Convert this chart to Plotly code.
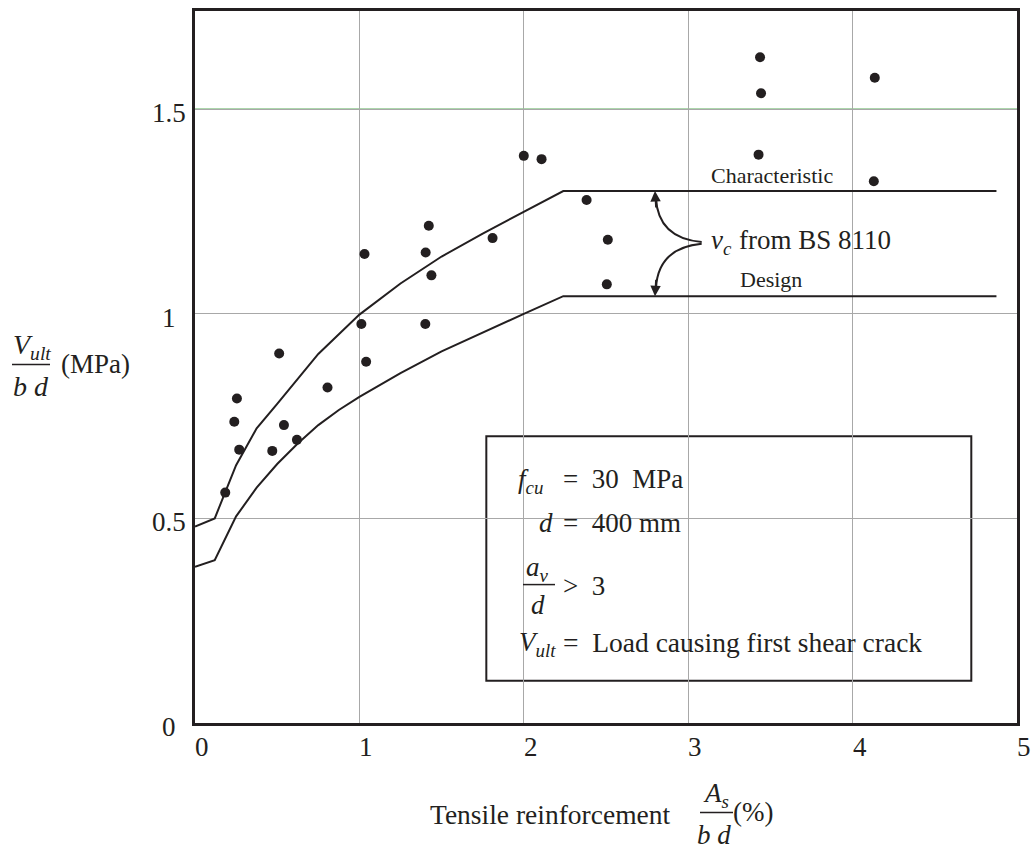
import plotly.graph_objects as go

# ---------------- data ----------------
curve_x = [0, 0.12, 0.25, 0.375, 0.5, 0.625, 0.75, 0.875, 1.0, 1.25, 1.5, 1.75, 2.0, 2.24, 4.875]
char_y = [0.48, 0.50, 0.63, 0.72, 0.78, 0.842, 0.902, 0.95, 0.998, 1.074, 1.14, 1.196, 1.248, 1.30, 1.30]
design_y = [0.382, 0.398, 0.505, 0.575, 0.633, 0.683, 0.728, 0.765, 0.797, 0.855, 0.908, 0.955, 1.0, 1.043, 1.043]

test_x = [0.184, 0.239, 0.255, 0.269, 0.47, 0.512, 0.541, 0.62, 0.806, 1.012, 1.031, 1.041,
          1.401, 1.403, 1.422, 1.438, 1.81, 2.0, 2.108, 2.382, 2.511, 2.505, 3.437, 3.443,
          3.428, 4.135, 4.129]
test_y = [0.563, 0.736, 0.793, 0.668, 0.665, 0.903, 0.728, 0.692, 0.820, 0.975, 1.146, 0.883,
          0.975, 1.150, 1.215, 1.094, 1.185, 1.386, 1.378, 1.278, 1.181, 1.072, 1.627, 1.539,
          1.389, 1.577, 1.324]

x_ticks = [0, 1, 2, 3, 4, 5]
x_tick_labels = ["0", "1", "2", "3", "4", "5"]
y_ticks = [0, 0.5, 1, 1.5]
y_tick_labels = ["0", "0.5", "1", "1.5"]

# ---------------- layout geometry ----------------
W, H = 1031, 850
L, R, T, B = 195, 1017, 8, 723
PW, PH = R - L, B - T
XMAX, YMAX = 5, 1.74
FONT = "Liberation Serif"
INK = "#231f20"


def P(px, py):
    return (px - L) / PW, (B - py) / PH


fig = go.Figure()
fig.add_trace(go.Scatter(x=curve_x, y=char_y, mode="lines", line=dict(color=INK, width=2),
                         name="Characteristic", showlegend=False))
fig.add_trace(go.Scatter(x=curve_x, y=design_y, mode="lines", line=dict(color=INK, width=2),
                         name="Design", showlegend=False))
fig.add_trace(go.Scatter(x=test_x, y=test_y, mode="markers",
                         marker=dict(color=INK, size=10), name="Tests", showlegend=False))

shapes = []
# green line at 1.5
shapes.append(dict(type="line", xref="x", yref="y", x0=0, x1=XMAX, y0=1.5, y1=1.5,
                   line=dict(color="#5aae5a", width=1.6), layer="below"))
# info box
shapes.append(dict(type="rect", xref="x", yref="y", x0=1.772, x1=4.722, y0=0.103, y1=0.701,
                   fillcolor="white", line=dict(color=INK, width=2), layer="below"))
# curved arrows (bracket)
shapes.append(dict(type="path", xref="x", yref="y",
                   path="M 3.082,1.1755 Q 2.816,1.185 2.804,1.283",
                   line=dict(color=INK, width=2)))
shapes.append(dict(type="path", xref="x", yref="y",
                   path="M 3.082,1.171 Q 2.816,1.161 2.804,1.062",
                   line=dict(color=INK, width=2)))


def hline_px(x0, x1, y):
    a = P(x0, y)
    b = P(x1, y)
    shapes.append(dict(type="line", xref="paper", yref="paper", x0=a[0], x1=b[0], y0=a[1], y1=b[1],
                       line=dict(color=INK, width=1.5)))


hline_px(12, 50, 363)     # y title fraction bar
hline_px(700, 733, 813)   # x title fraction bar
hline_px(523, 555, 584)   # a_v / d bar

ann = []


def text(px, py, s, size=27, xanchor="center", italic=False):
    x, y = P(px, py)
    ann.append(dict(xref="paper", yref="paper", x=x, y=y, text=s, showarrow=False,
                    xanchor=xanchor, yanchor="middle",
                    font=dict(family=FONT, size=size, color=INK,
                              style="italic" if italic else "normal")))


# tick labels
for v, lab in zip(x_ticks, x_tick_labels):
    text(L + v / XMAX * PW + 7, 747, lab)
for v, lab in zip(y_ticks, y_tick_labels):
    text(169, B - v / YMAX * PH + 4, lab, xanchor="center")

# axis titles
text(32, 345, "V<sub>ult</sub>", size=28, italic=True)
text(31, 385, "b d", size=28, italic=True)
text(59, 362, "(MPa)", xanchor="left")
text(550, 815, "Tensile reinforcement", size=27.5)
text(716, 795, "A<sub>s</sub>", italic=True)
text(714, 835, "b d", italic=True)
text(731, 812, "(%)", xanchor="left")

# curve labels
text(771.5, 173, "Characteristic", size=22)
text(771, 278, "Design", size=22)
text(709, 240, "v<sub>c</sub>", xanchor="left", italic=True)
text(737, 238, "from BS 8110", xanchor="left")

# box contents
text(516, 480, "f<sub>cu</sub>", xanchor="left", italic=True)
text(561, 478, "=  30  MPa", xanchor="left")
text(537, 522, "d", xanchor="left", italic=True)
text(561, 522, "=  400 mm", xanchor="left")
text(524, 568, "a<sub>v</sub>", xanchor="left", italic=True)
text(538, 605, "d", italic=True)
text(561, 585, ">  3", xanchor="left")
text(517, 644, "V<sub>ult</sub>", xanchor="left", italic=True)
text(561, 642, "=  Load causing first shear crack", xanchor="left", size=27.5)

# arrow heads
ann.append(dict(xref="x", yref="y", x=2.798, y=1.30, ax=1, ay=18, text="", showarrow=True,
                arrowhead=2, arrowsize=1.3, arrowwidth=1.6, arrowcolor=INK))
ann.append(dict(xref="x", yref="y", x=2.798, y=1.043, ax=1, ay=-18, text="", showarrow=True,
                arrowhead=2, arrowsize=1.3, arrowwidth=1.6, arrowcolor=INK))

fig.update_layout(
    width=W, height=H,
    margin=dict(l=L, r=W - R, t=T, b=H - B),
    paper_bgcolor="white", plot_bgcolor="white",
    shapes=shapes, annotations=ann,
    font=dict(family=FONT, size=27, color=INK),
    showlegend=False,
    xaxis=dict(range=[0, XMAX], tickvals=[1, 2, 3, 4], showticklabels=False, ticks="",
               showgrid=True, gridcolor="#a8a8a8", gridwidth=1, zeroline=False,
               showline=True, linecolor=INK, linewidth=3, mirror=True, fixedrange=True),
    yaxis=dict(range=[0, YMAX], tickvals=[0.5, 1, 1.5], showticklabels=False, ticks="",
               showgrid=True, gridcolor="#a8a8a8", gridwidth=1, zeroline=False,
               showline=True, linecolor=INK, linewidth=3, mirror=True, fixedrange=True),
)

fig.write_html("out.html")
